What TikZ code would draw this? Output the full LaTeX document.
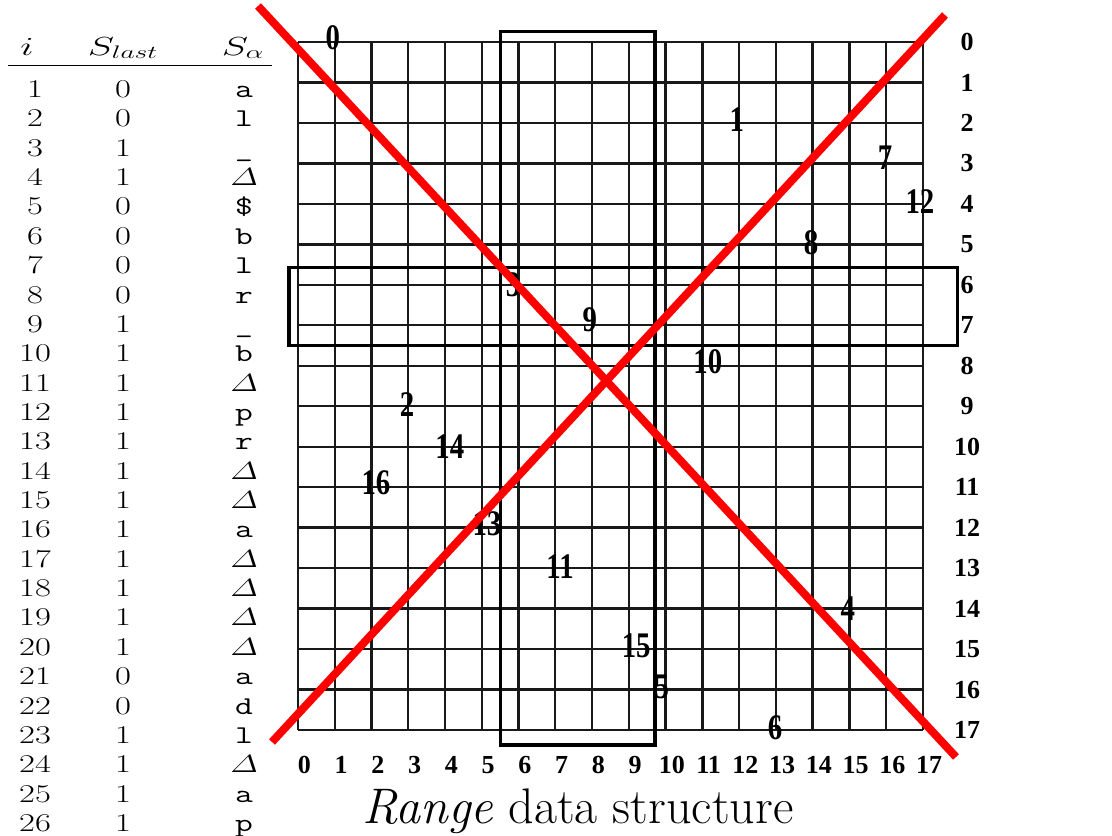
\documentclass[tikz,border=0pt]{standalone}
\usepackage{amsmath}
\usepackage{graphicx}
\usepackage{fontspec}
\newfontfamily\timesfont{Liberation Serif}
\usetikzlibrary{positioning}

\tikzset{
  gridline/.style={line width=2.3pt, black!90},
  boxline/.style={line width=3.2pt, black},
  cross/.style={line width=8pt, red},
  tabtext/.style={font=\fontsize{25.6}{28}\selectfont, inner sep=0pt, anchor=base},
  axislabel/.style={font=\timesfont\bfseries\fontsize{26}{28}\selectfont, inner sep=0pt},
  pointlabel/.style={font=\timesfont\bfseries\fontsize{36}{38}\selectfont, inner sep=0pt},
  caption/.style={font=\fontsize{50}{54}\selectfont, inner sep=0pt, anchor=base}
}
\newcommand{\wide}[1]{\scalebox{1.35}[1]{#1}}
\newcommand{\widehead}[1]{\scalebox{1.6}[1.05]{#1}}
\newcommand{\narrow}[1]{\scalebox{0.8}[1]{#1}}
\newcommand{\dl}{$\varDelta$}

\begin{document}
\begin{tikzpicture}[x=1pt, y=-1pt]
\useasboundingbox (0,0) rectangle (1112,836);

% table of the string
\node[tabtext] (hi) at (27,55) {\widehead{$i$}};
\node[tabtext] (hlast) at (123,55) {\widehead{$S_{last}$}};
\node[tabtext] (halpha) at (243,55) {\widehead{$S_\alpha$}};
\draw[line width=1.4pt] (8,65.5) -- (272,65.5);
\foreach \n/\s/\c in {1/0/a, 2/0/l, 3/1/\_, 4/1/\dl, 5/0/\$, 6/0/b, 7/0/l,
    8/0/r, 9/1/\_, 10/1/b, 11/1/\dl, 12/1/p, 13/1/r, 14/1/\dl, 15/1/\dl,
    16/1/a, 17/1/\dl, 18/1/\dl, 19/1/\dl, 20/1/\dl, 21/0/a, 22/0/d, 23/1/l,
    24/1/\dl, 25/1/a, 26/1/p} {
  \pgfmathsetmacro\yy{97.5+29.36*(\n-1)}
  \node[tabtext] (i\n) at (35,\yy) {\wide{\n}};
  \node[tabtext] (last\n) at (123,\yy) {\wide{\s}};
  \node[tabtext] (alpha\n) at (244,\yy) {\wide{\texttt{\c}}};
}

% range grid
\begin{scope}[shift={(298,42)}, x=36.76pt, y=-40.47pt]
  \foreach \k in {0,...,17} {
    \draw[gridline] (\k,0) -- (\k,17);
    \draw[gridline] (0,\k) -- (17,\k);
    \node[axislabel] (col\k) at (\k+0.17,17.87) {\k};
    \node[axislabel] (row\k) at (18.2,\k) {\k};
  }
  \foreach \lbl/\cx/\cy in {0/0.95/-0.1, 1/11.94/1.93, 2/2.97/8.97, 3/5.85/6.0,
      4/14.96/14.0, 5/9.9/15.94, 6/12.98/16.95, 7/15.97/2.87, 8/13.96/4.97,
      9/7.94/6.87, 10/11.15/7.91, 11/7.13/12.97, 12/16.92/3.95, 13/5.14/11.9,
      14/4.13/10.0, 15/9.2/14.93, 16/2.12/10.9}
    \node[pointlabel] (p\lbl) at (\cx,\cy) {\narrow{\lbl}};
  % query boxes
  \draw[boxline] (5.5,-0.25) rectangle (9.71,17.37);
  \draw[boxline] (-0.245,5.58) rectangle (17.93,7.49);
\end{scope}

% crossed out
\coordinate (tl) at (258,6);
\coordinate (br) at (956,757);
\coordinate (tr) at (945,15);
\coordinate (bl) at (272,742);
\draw[cross] (tl) -- (br);
\draw[cross] (tr) -- (bl);

\node[caption] (title) at (578,823) {\textit{Range} data structure};
\end{tikzpicture}
\end{document}
